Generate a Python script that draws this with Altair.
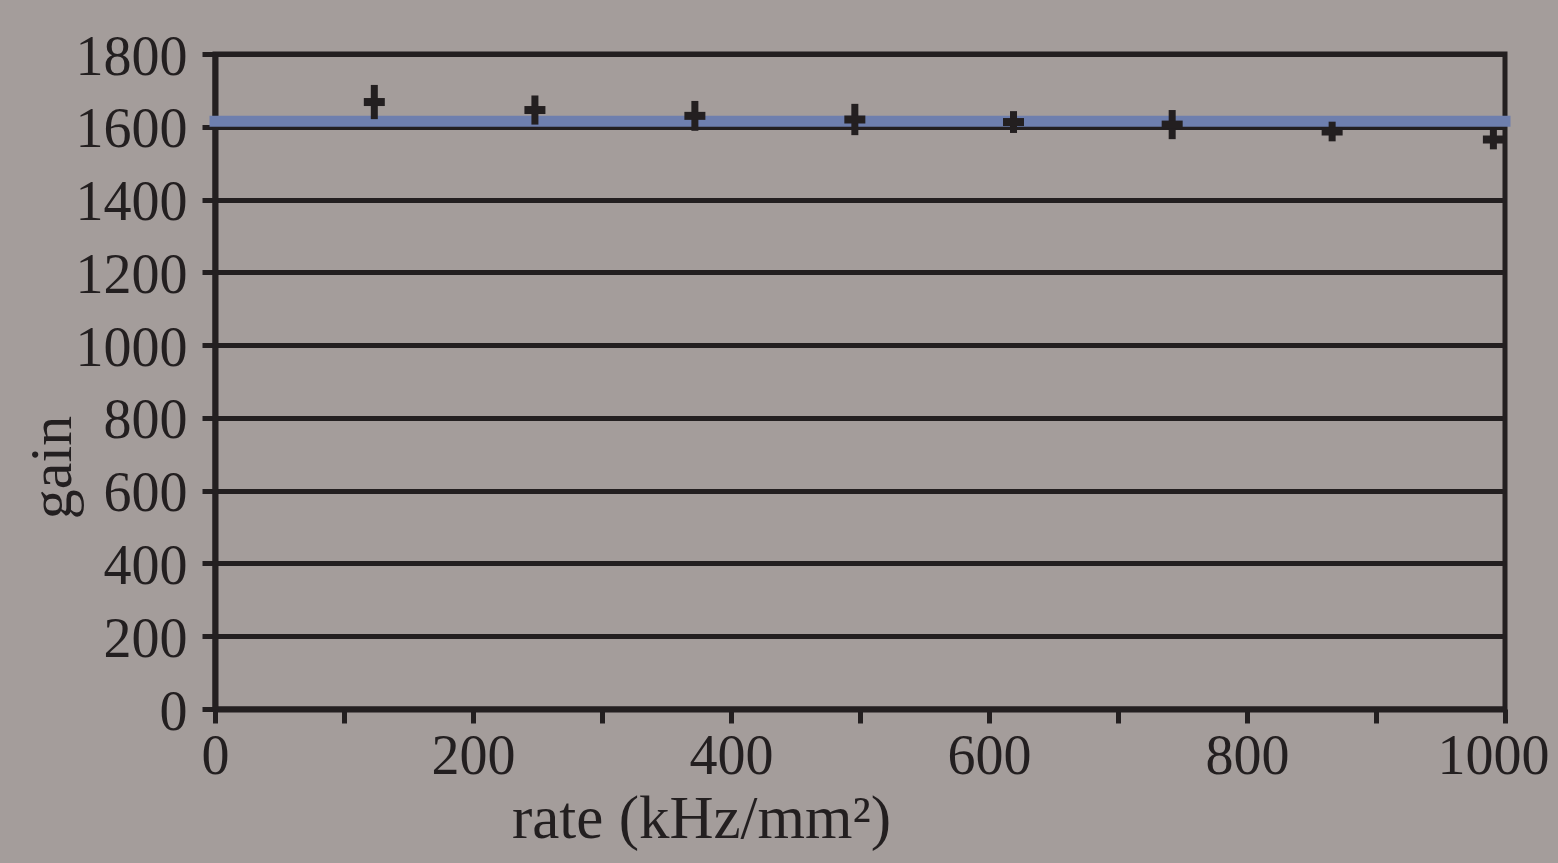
import altair as alt
import pandas as pd

# data
rate = [123.5, 248, 372, 496, 619, 742, 866, 991]
gain = [1668, 1646, 1630, 1620, 1613, 1606, 1587, 1565]
gain_err = [47, 40, 41, 43, 30, 40, 27, 27]

fit_rate = [0, 1000]
fit_gain = [1615, 1615]

x_ticks = list(range(0, 1001, 100))
y_ticks = list(range(0, 1801, 200))

pts = pd.DataFrame({
    "rate": rate,
    "gain": gain,
    "lo": [g - e for g, e in zip(gain, gain_err)],
    "hi": [g + e for g, e in zip(gain, gain_err)],
})
fit = pd.DataFrame({"rate": fit_rate, "gain": fit_gain})

FONT = "Liberation Serif"
INK = "#231f20"

xscale = alt.Scale(domain=[0, 1000], nice=False)
yscale = alt.Scale(domain=[0, 1800], nice=False)

xaxis = alt.Axis(
    title="rate (kHz/mm²)",
    values=x_ticks,
    format="d",
    labelExpr="datum.value % 200 == 0 ? datum.label : ''",
    grid=False,
    tickSize=14, tickWidth=5, tickColor=INK,
    domainColor=INK, domainWidth=6,
    labelFont=FONT, labelFontSize=56, labelColor=INK,
    labelBaseline="alphabetic", labelPadding=50,
    labelOffset={"condition": {"test": "datum.value == 1000", "value": -12}, "value": 0},
    labelOverlap=False, labelFlush=False, labelBound=False,
    titleFont=FONT, titleFontSize=61, titleFontWeight="normal", titleColor=INK,
    titleX=486, titleY=128, titleAlign="center", titleBaseline="alphabetic",
)
yaxis = alt.Axis(
    title="gain",
    values=y_ticks,
    format="d",
    grid=True, gridColor=INK, gridWidth=5, gridOpacity=1,
    tickSize=13, tickWidth=5, tickColor=INK,
    domainColor=INK, domainWidth=6,
    labelFont=FONT, labelFontSize=56, labelColor=INK,
    labelBaseline="alphabetic", labelOffset=20, labelPadding=15,
    labelOverlap=False, labelFlush=False, labelBound=False,
    titleFont=FONT, titleFontSize=60, titleFontWeight="normal", titleColor=INK,
    titleAngle=270, titleX=-145, titleY=413, titleAlign="center",
    titleBaseline="alphabetic",
)

base_fit = alt.Chart(fit).mark_line(
    color="#6e7fae", strokeWidth=11, strokeCap="square"
).encode(
    x=alt.X("rate:Q", scale=xscale, axis=xaxis),
    y=alt.Y("gain:Q", scale=yscale, axis=yaxis),
)

err = alt.Chart(pts).mark_rule(color=INK, strokeWidth=7).encode(
    x=alt.X("rate:Q", scale=xscale),
    y=alt.Y("lo:Q", scale=yscale),
    y2="hi:Q",
)

bar = alt.Chart(pts).mark_tick(
    color=INK, orient="horizontal", size=21, thickness=8, opacity=1
).encode(
    x=alt.X("rate:Q", scale=xscale),
    y=alt.Y("gain:Q", scale=yscale),
)

chart = alt.layer(base_fit, err, bar).properties(
    width=1290,
    height=655,
    background="#a49d9b",
    padding={"left": 215, "top": 54, "right": 53, "bottom": 154},
    autosize=alt.AutoSizeParams(type="none"),
).configure_view(
    stroke=INK, strokeWidth=5, fill="#a49d9b"
)

chart.save("out.html", embed_options={"renderer": "svg", "actions": False})
